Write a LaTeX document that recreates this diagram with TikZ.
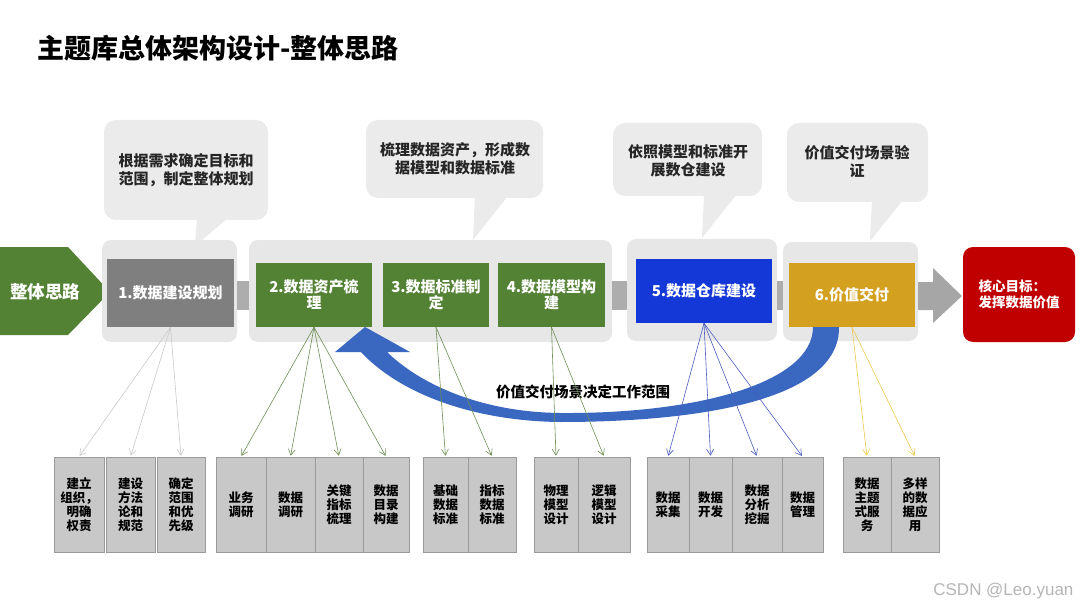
\documentclass[tikz,border=0pt]{standalone}
\usepackage{fontspec}
\setmainfont{Noto Sans CJK SC}
\newfontfamily\marksans{Liberation Sans}
\usetikzlibrary{arrows.meta}

\definecolor{bggray}{HTML}{E7E7E7}
\definecolor{bubblegray}{HTML}{EBEBEB}
\definecolor{linkgray}{HTML}{ADADAD}
\definecolor{arrowgray}{HTML}{A6A6A6}
\definecolor{stepgray}{HTML}{7F7F7F}
\definecolor{stepgreen}{HTML}{548235}
\definecolor{stepblue}{HTML}{1438D8}
\definecolor{stepgold}{HTML}{D4A020}
\definecolor{goalred}{HTML}{C00000}
\definecolor{itemgray}{HTML}{C8C8C8}
\definecolor{itemline}{HTML}{9A9A9A}
\definecolor{fangray}{HTML}{C9C9C9}
\definecolor{fangreen}{HTML}{6E8F55}
\definecolor{fanblue}{HTML}{4B5BC0}
\definecolor{fanyellow}{HTML}{EFC84A}
\definecolor{curveblue}{HTML}{3A67BF}
\definecolor{textgray}{HTML}{262626}
\definecolor{markgray}{HTML}{B5B5B5}

\begin{document}
\begin{tikzpicture}[x=1pt, y=-1pt,
    bgbox/.style={fill=bggray, rounded corners=9pt},
    stepbox/.style={text=white, align=center, inner sep=0pt,
        font=\fontsize{15}{16}\selectfont\bfseries},
    itembox/.style={fill=itemgray, draw=itemline, line width=0.6pt, align=center,
        inner sep=0pt, minimum height=95pt, font=\fontsize{12.5}{14}\selectfont\bfseries},
    bubbletext/.style={text=textgray, align=center, font=\fontsize{15}{18}\selectfont\bfseries},
    fan/.style={-{Straight Barb[length=6pt,width=7pt]}, line width=0.6pt, shorten >=1pt}]
    \useasboundingbox (0,0) rectangle (1080,607);

    % Title
    \node[anchor=west, text=black, font=\fontsize{27}{30}\selectfont\bfseries] (title) at (34,48) {主题库总体架构设计-整体思路};

    % Callouts
    \fill[bubblegray, rounded corners=12pt] (104,120) rectangle (268,220);
    \fill[bubblegray] (197,218) -- (195,246) -- (228,218) -- cycle;
    \node[bubbletext] (t1) at (186,170) {根据需求确定目标和\\范围，制定整体规划};
    \fill[bubblegray, rounded corners=12pt] (366,120) rectangle (543,198);
    \fill[bubblegray] (475,196) -- (473,240) -- (508,196) -- cycle;
    \node[bubbletext] (t2) at (455,159) {梳理数据资产，形成数\\据模型和数据标准};
    \fill[bubblegray, rounded corners=12pt] (613,123) rectangle (762,196);
    \fill[bubblegray] (704,194) -- (702,238) -- (737,194) -- cycle;
    \node[bubbletext] (t3) at (688,161) {依照模型和标准开\\展数仓建设};
    \fill[bubblegray, rounded corners=12pt] (787,123) rectangle (928,202);
    \fill[bubblegray] (872,200) -- (870,241) -- (903,200) -- cycle;
    \node[bubbletext] (t4) at (857,162) {价值交付场景验\\证};

    % Start and goal
    \fill[stepgreen] (0,247) -- (68,247) -- (110,292) -- (68,335) -- (0,335) -- cycle;
    \node[text=white, font=\fontsize{17.5}{20}\selectfont\bfseries] (start) at (45,292) {整体思路};
    \node[fill=goalred, rounded corners=10pt, minimum width=112pt, minimum height=95pt,
        text=white, align=left, font=\fontsize{13.5}{16}\selectfont\bfseries] (goal) at (1019,294.5) {核心目标：\\发挥数据价值};

    % Phase groups and links
    \fill[bgbox] (102,240) rectangle (237,342);
    \fill[bgbox] (249,240) rectangle (612,342);
    \fill[bgbox] (627,239) rectangle (777,341);
    \fill[bgbox] (783,242) rectangle (918,341);
    \fill[linkgray] (237,281) rectangle (249,310);
    \fill[linkgray] (612,281) rectangle (627,310);
    \fill[linkgray] (777,281) rectangle (783,310);
    \fill[arrowgray] (918,282) -- (933,282) -- (933,268) -- (962,296) -- (933,323) -- (933,310) -- (918,310) -- cycle;

    % Steps
    \node[stepbox, fill=stepgray, minimum width=127pt, minimum height=68pt] (s1) at (170.5,293) {1.数据建设规划};
    \node[stepbox, fill=stepgreen, minimum width=116pt, minimum height=64pt] (s2) at (314,295) {2.数据资产梳\\理};
    \node[stepbox, fill=stepgreen, minimum width=106pt, minimum height=64pt] (s3) at (436,295) {3.数据标准制\\定};
    \node[stepbox, fill=stepgreen, minimum width=107pt, minimum height=64pt] (s4) at (551.5,295) {4.数据模型构\\建};
    \node[stepbox, fill=stepblue, minimum width=136pt, minimum height=64pt] (s5) at (704,291) {5.数据仓库建设};
    \node[stepbox, fill=stepgold, minimum width=126pt, minimum height=64pt] (s6) at (852,295) {6.价值交付};

    % Feedback arrow
    \fill[curveblue] (839,327) .. controls (840,400) and (700,422) .. (560,422)
        .. controls (470,421) and (398,392) .. (361,352) -- (335,352) -- (365,327) -- (410,352) -- (387,352)
        .. controls (420,384) and (480,412) .. (560,413)
        .. controls (700,414) and (813,382) .. (813,327) -- cycle;
    \node[text=black, font=\fontsize{14.5}{17}\selectfont\bfseries] (loop) at (583,392) {价值交付场景决定工作范围};

    % Work items
    \foreach \n/\l/\r/\t in {a1/54/104/{建立\\组织，\\明确\\权责}, a2/106/155/{建设\\方法\\论和\\规范},
        a3/157/205/{确定\\范围\\和优\\先级}, b1/216/266/{业务\\调研}, b2/266/315/{数据\\调研},
        b3/315/363/{关键\\指标\\梳理}, b4/363/409/{数据\\目录\\构建}, c1/423/468/{基础\\数据\\标准},
        c2/468/516/{指标\\数据\\标准}, d1/534/578/{物理\\模型\\设计}, d2/578/630/{逻辑\\模型\\设计},
        e1/647/689/{数据\\采集}, e2/689/732/{数据\\开发}, e3/732/782/{数据\\分析\\挖掘},
        e4/782/823/{数据\\管理}, f1/843/891/{数据\\主题\\式服\\务}, f2/891/939/{多样\\的数\\据应\\用}}
        \node[itembox, minimum width={(\r-\l)*1pt}] (\n) at ({(\l+\r)/2},504.5) {\t};

    % Fan-out
    \foreach \n in {a1,a2,a3} \draw[fan, fangray] (s1.south) -- (\n.north);
    \foreach \n in {b1,b2,b3,b4} \draw[fan, fangreen] (s2.south) -- (\n.north);
    \foreach \n in {c1,c2} \draw[fan, fangreen] (s3.south) -- (\n.north);
    \foreach \n in {d1,d2} \draw[fan, fangreen] (s4.south) -- (\n.north);
    \foreach \n in {e1,e2,e3,e4} \draw[fan, fanblue] (s5.south) -- (\n.north);
    \foreach \n in {f1,f2} \draw[fan, fanyellow] (s6.south) -- (\n.north);

    % Watermark
    \node[anchor=east, text=markgray, font=\marksans\fontsize{17}{20}\selectfont] (mark) at (1077,591) {CSDN @Leo.yuan};
\end{tikzpicture}
\end{document}
